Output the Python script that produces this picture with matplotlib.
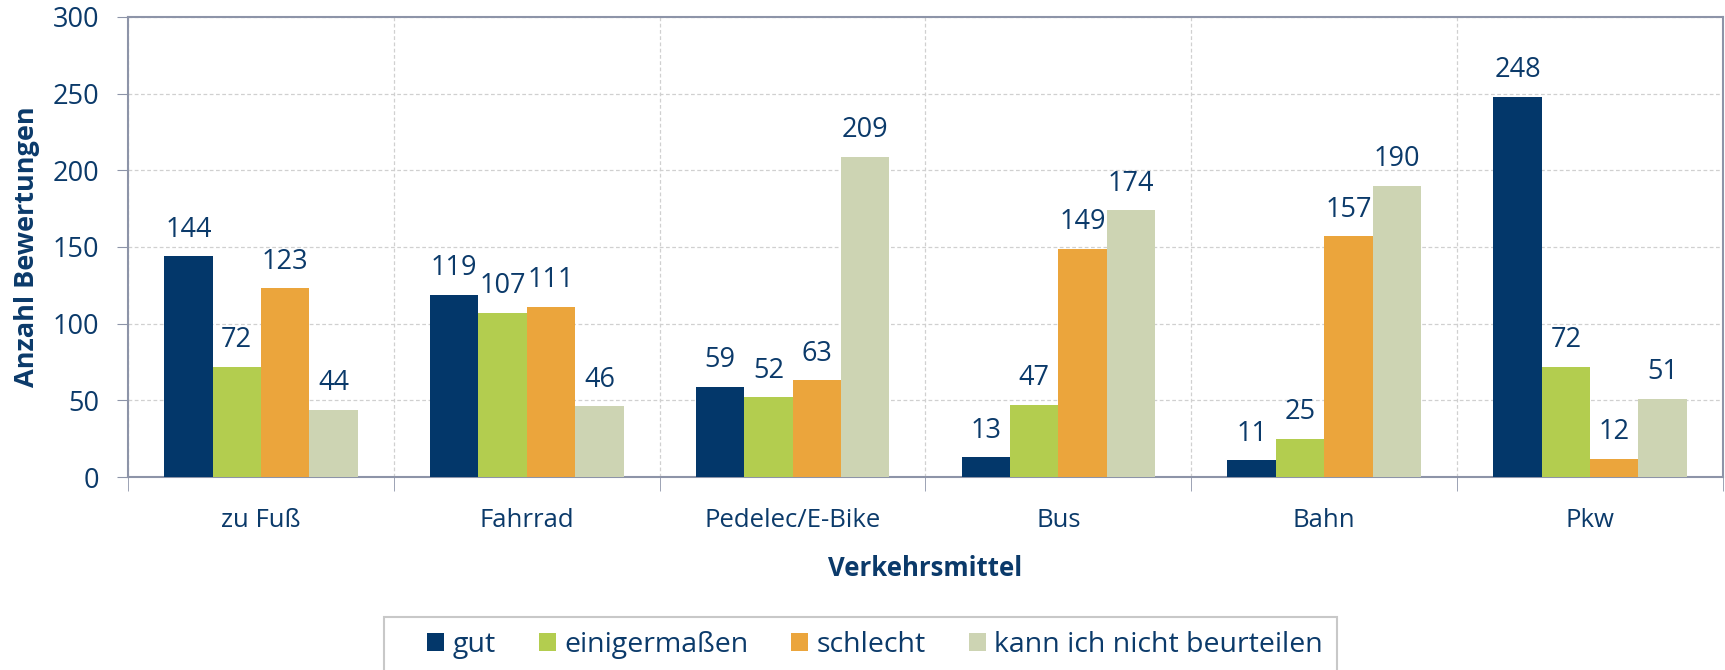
import numpy as np
import matplotlib
matplotlib.use("Agg")
from matplotlib import pyplot as plt
from matplotlib.patches import Rectangle

# Daten
kategorien = ["zu Fuß", "Fahrrad", "Pedelec/E-Bike", "Bus", "Bahn", "Pkw"]
gut = [144, 119, 59, 13, 11, 248]
einigermassen = [72, 107, 52, 47, 25, 72]
schlecht = [123, 111, 63, 149, 157, 12]
nicht_beurteilen = [44, 46, 209, 174, 190, 51]
serien_namen = ["gut", "einigermaßen", "schlecht", "kann ich nicht beurteilen"]
farben = ["#03376A", "#B3CD4F", "#EBA53C", "#CDD4B3"]

text_farbe = "#0B3A6A"
achsen_farbe = "#8D94A8"

plt.rcParams["font.family"] = ["Open Sans", "DejaVu Sans"]

W, H = 1725, 670
fig = plt.figure(figsize=(W / 100, H / 100), dpi=100)
ax = fig.add_axes([128 / W, 1 - 477 / H, (1723 - 128) / W, (477 - 17) / H])

x = np.arange(len(kategorien))
breite = 0.182
serien = [gut, einigermassen, schlecht, nicht_beurteilen]
for i, (werte, name, farbe) in enumerate(zip(serien, serien_namen, farben)):
    pos = x + (i - 1.5) * breite
    bars = ax.bar(pos, werte, breite, color=farbe, label=name, zorder=3)
    for b, v in zip(bars, werte):
        ax.annotate(str(v), (b.get_x() + b.get_width() / 2, v), xytext=(0, 9),
                    textcoords="offset points", ha="center", va="bottom",
                    fontsize=19.5, color=text_farbe)

ax.set_xlim(-0.5, len(kategorien) - 0.5)
ax.set_ylim(0, 300)
ax.set_yticks(range(0, 301, 50))
ax.set_xticks(x)
ax.set_xticklabels(kategorien)
ax.set_xticks(np.arange(-0.5, len(kategorien)), minor=True)
ax.tick_params(axis="x", which="major", length=0, pad=22, labelsize=18.5, labelcolor=text_farbe)
ax.tick_params(axis="x", which="minor", length=10, color=achsen_farbe)
ax.tick_params(axis="y", length=8, pad=13, color=achsen_farbe, labelsize=19.5, labelcolor=text_farbe)

ax.grid(axis="y", linestyle=(0, (3, 2)), color="#D0D0D0", linewidth=0.9, zorder=0)
ax.grid(axis="x", which="minor", linestyle=(0, (3, 2)), color="#D0D0D0", linewidth=0.9, zorder=0)

for s in ax.spines.values():
    s.set_color(achsen_farbe)
    s.set_linewidth(1.5)

ax.set_xlabel("Verkehrsmittel", fontsize=18.5, fontweight="bold", color=text_farbe, labelpad=16)
ax.set_ylabel("Anzahl Bewertungen", fontsize=19.5, fontweight="bold", color=text_farbe, labelpad=9)

# Legende: Rahmen läuft unten über den Bildrand hinaus
fig.patches.append(Rectangle((384 / W, -0.05), (1337 - 384) / W, (H - 617) / H + 0.05,
                             transform=fig.transFigure, fill=False,
                             edgecolor="#C8C8C8", linewidth=1.5))
fig.legend(loc="center left", bbox_to_anchor=(427 / W, 1 - 645 / H), ncol=4,
           frameon=False, fontsize=20.5, handlelength=0.6, handleheight=0.6,
           handletextpad=0.3, columnspacing=1.5, borderpad=0, borderaxespad=0,
           labelcolor=text_farbe)

fig.savefig("out.png", dpi=100)
